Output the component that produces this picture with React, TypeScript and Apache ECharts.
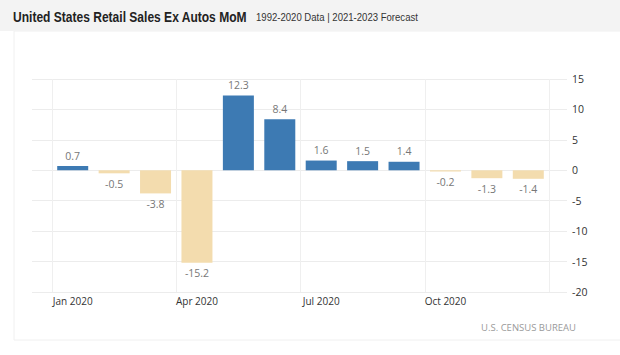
import React, { useEffect, useRef } from "react";
import * as echarts from "echarts";

const months = ["Jan 2020", "Feb 2020", "Mar 2020", "Apr 2020", "May 2020", "Jun 2020", "Jul 2020", "Aug 2020", "Sep 2020", "Oct 2020", "Nov 2020", "Dec 2020"];
const values = [0.7, -0.5, -3.8, -15.2, 12.3, 8.4, 1.6, 1.5, 1.4, -0.2, -1.3, -1.4];
const yTicks = { min: -20, max: 15, interval: 5 };

const TITLE = "United States Retail Sales Ex Autos MoM";
const SUBTITLE = "1992-2020 Data | 2021-2023 Forecast";
const SOURCE = "U.S. CENSUS BUREAU";

const BLUE = "#3d7ab3";
const BEIGE = "#f3dcae";

export default function App() {
  const ref = useRef<HTMLDivElement>(null);
  useEffect(() => {
    if (!ref.current) return;
    const chart = echarts.init(ref.current, null, { renderer: "svg" });
    const option: any = {
      animation: false,
      backgroundColor: "#ffffff",
      textStyle: { fontFamily: "Open Sans" },
      graphic: [
        { type: "rect", z: -10, shape: { x: 14, y: 31, width: 700, height: 309 }, style: { fill: "none", stroke: "#f0f0f0", lineWidth: 1 } },
        { type: "rect", z: -9, shape: { x: 0, y: 0, width: 620, height: 31 }, style: { fill: "#f3f3f3" } },
        { type: "text", x: 13, y: 17, scaleX: 0.86, style: { text: TITLE, fill: "#222", font: "bold 14px 'Liberation Sans', Arial, sans-serif", textVerticalAlign: "middle" } },
        { type: "text", x: 256, y: 17, scaleX: 0.87, style: { text: SUBTITLE, fill: "#333", font: "11px 'Liberation Sans', Arial, sans-serif", textVerticalAlign: "middle" } },
        { type: "text", x: 576, y: 327, style: { text: SOURCE, fill: "#9a9a9a", font: "9.5px 'Open Sans', sans-serif", textAlign: "right", textVerticalAlign: "middle" } },
      ],
      grid: [
        { left: 32, right: 53, top: 79, bottom: 63 },
        { left: 52, right: 71, top: 79, bottom: 63 },
      ],
      xAxis: [
        { gridIndex: 0, type: "value", show: false, min: 0, max: 1 },
        {
          gridIndex: 1,
          type: "category",
          data: months,
          axisLine: { show: false },
          axisTick: { show: false },
          axisLabel: {
            interval: (i: number) => i % 3 === 0,
            color: "#333",
            fontSize: 10,
            margin: 4,
          },
          splitLine: {
            show: true,
            interval: (i: number) => i % 3 === 0,
            lineStyle: { color: "#efefef", width: 1 },
          },
        },
      ],
      yAxis: [
        {
          gridIndex: 0,
          type: "value",
          position: "right",
          min: yTicks.min,
          max: yTicks.max,
          interval: yTicks.interval,
          axisLine: { show: false },
          axisTick: { show: false },
          axisLabel: { color: "#333", fontSize: 10.5, margin: 5 },
          splitLine: { lineStyle: { color: "#ececec", width: 1 } },
        },
        {
          gridIndex: 1,
          type: "value",
          show: false,
          min: yTicks.min,
          max: yTicks.max,
          interval: yTicks.interval,
          splitLine: { show: false },
        },
      ],
      series: [
        {
          type: "bar",
          xAxisIndex: 1,
          yAxisIndex: 1,
          barWidth: 31,
          data: values.map((v) => ({
            value: v,
            itemStyle: { color: v >= 0 ? BLUE : BEIGE },
            label: { position: v >= 0 ? "top" : "bottom" },
          })),
          label: {
            show: true,
            color: "#777",
            fontSize: 10.5,
            distance: 5,
            formatter: (p: any) => String(p.value),
          },
        },
      ],
    };
    chart.setOption(option);
    return () => chart.dispose();
  }, []);
  return <div ref={ref} style={{ width: 620, height: 355, position: "absolute", left: 0, top: 0 }} />;
}
